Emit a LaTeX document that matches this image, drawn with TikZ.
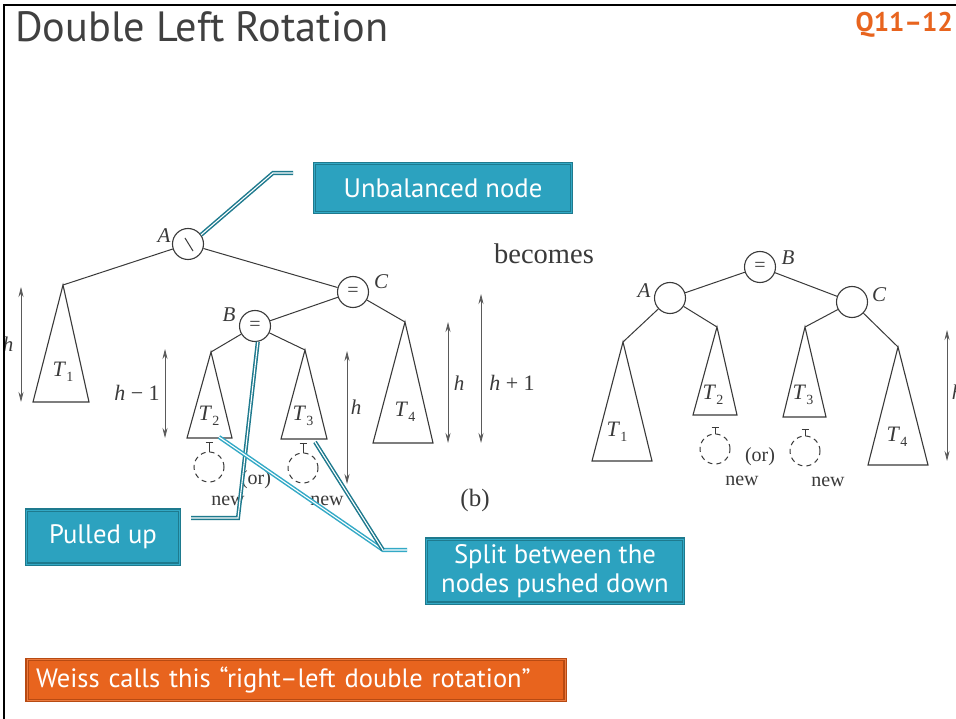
\documentclass[tikz,border=0pt]{standalone}
\usepackage{fontspec}
\setmainfont{Liberation Serif}
\newfontfamily\slidefont{PT Sans}
\usetikzlibrary{arrows.meta}
\definecolor{tealfill}{HTML}{2CA2BF}
\definecolor{tealdark}{HTML}{1E7A8E}
\definecolor{teallight}{HTML}{33A9C6}
\definecolor{orng}{HTML}{E8641E}
\definecolor{orngdark}{HTML}{B84A12}
\definecolor{ink}{HTML}{3A3A3A}
\definecolor{dimgray}{HTML}{5A5A5A}
\definecolor{titlegray}{HTML}{404040}
\newcommand{\Tsub}[1]{\textit{T}\raisebox{-5pt}{\fontsize{14}{14}\selectfont #1}}
\tikzset{
  tnode/.style={circle, draw=ink, line width=1.1pt, minimum size=31pt, inner sep=0pt, fill=white,
    font=\fontsize{20}{20}\selectfont, text=ink},
  edge/.style={draw=ink, line width=1pt},
  tri/.style={draw=ink, line width=1.1pt, line join=miter},
  newnode/.style={circle, draw=ink, line width=1pt, dash pattern=on 5pt off 4pt, minimum size=30pt, inner sep=0pt},
  stem/.style={draw=ink, line width=1pt},
  dimline/.style={draw=dimgray, line width=0.8pt, {Stealth[length=10pt,width=5pt]}-{Stealth[length=10pt,width=5pt]}},
  lab/.style={font=\fontsize{21}{21}\selectfont\itshape, text=ink, inner sep=0pt},
  tlab/.style={font=\fontsize{22}{22}\selectfont, text=ink, inner sep=0pt},
  txt/.style={font=\fontsize{20}{20}\selectfont, text=ink, inner sep=0pt},
  callout/.style={draw=tealdark, double=teallight, double distance=1pt, line width=1.2pt,
    fill=tealfill, text=white, font=\slidefont\fontsize{26.7}{29}\selectfont, inner sep=0pt, align=center},
  orangebox/.style={draw=orngdark, double=orng!85!white, double distance=1pt, line width=1.2pt,
    fill=orng, text=white, font=\slidefont\fontsize{26.5}{29}\selectfont, inner sep=0pt},
  conn/.style={draw=tealdark, double=white, double distance=1.1pt, line width=1.5pt, line join=miter},
  connlight/.style={draw=teallight, double=white, double distance=1.1pt, line width=1.5pt, line join=miter},
}
\begin{document}
\begin{tikzpicture}[x=1pt,y=-1pt]
\useasboundingbox (0,0) rectangle (956,719);
\fill[white] (0,0) rectangle (956,719);
% frame
\draw[line width=2pt] (4,719) -- (4,5) -- (956,5);
% title
\node[anchor=base west, inner sep=0pt, text=titlegray, font=\slidefont\fontsize{42.3}{42}\selectfont] (title) at (15,42) {Double Left Rotation};
\node[anchor=base east, inner sep=0pt, text=orng, font=\slidefont\bfseries\fontsize{27}{27}\selectfont] (qnum) at (953,32) {Q11–12};

% ===== left tree (before) =====
\node[tnode] (A) at (188,244) {};
\draw[ink, line width=1pt] (185,238) -- (193,251);
\node[tnode] (C) at (353,292) {=};
\node[tnode] (B) at (255,326) {=};
\node[lab] (lA) at (164,236) {A};
\node[lab] (lC) at (381,282) {C};
\node[lab] (lB) at (229,315) {B};

\coordinate (t1a) at (63,285);
\coordinate (t2a) at (211,352);
\coordinate (t3a) at (305,350);
\coordinate (t4a) at (405,322);
\draw[edge] (A) -- (t1a);
\draw[edge] (A) -- (C);
\draw[edge] (C) -- (B);
\draw[edge] (C) -- (t4a);
\draw[edge] (B) -- (t2a);
\draw[edge] (B) -- (t3a);
\draw[tri] (t1a) -- (33,402) -- (89,402) -- cycle;
\draw[tri] (t2a) -- (187,438) -- (232,438) -- cycle;
\draw[tri] (t3a) -- (281,439) -- (327,439) -- cycle;
\draw[tri] (t4a) -- (373,443) -- (433,443) -- cycle;
\node[tlab] (lT1) at (63,372) {\Tsub{1}};
\node[tlab] (lT2) at (209,416) {\Tsub{2}};
\node[tlab] (lT3) at (303,416) {\Tsub{3}};
\node[tlab] (lT4) at (405,412) {\Tsub{4}};

% new nodes (left)
\node[newnode] (n2) at (209,467) {};
\node[newnode] (n3) at (303,468) {};
\draw[stem] (205.5,442) -- (212.5,442);
\draw[stem] (209,442) -- (n2.north);
\draw[stem] (299.5,443) -- (306.5,443);
\draw[stem] (303,443) -- (n3.north);
\node[txt] (or1) at (256,480) {(or)};
\node[txt] (new1) at (228,501) {new};
\node[txt] (new2) at (327,501) {new};
\begin{scope}
\clip (440,470) rectangle (520,511);
\node[font=\fontsize{25}{25}\selectfont, text=ink, inner sep=0pt] (blabel) at (475,500) {(b)};
\end{scope}

% dimension arrows (left)
\coordinate (d1t) at (21,287); \coordinate (d1b) at (21,402);
\draw[dimline] (d1t) -- (d1b);
\begin{scope}
\clip (5,300) rectangle (30,380);
\node[lab] (hA) at (8,344) {h};
\end{scope}
\coordinate (d2t) at (165,349); \coordinate (d2b) at (165,438);
\draw[dimline] (d2t) -- (d2b);
\node[txt, font=\fontsize{22}{22}\selectfont] (hm1) at (137,393) {\textit{h} − 1};
\coordinate (d3t) at (347,351); \coordinate (d3b) at (347,484);
\draw[dimline] (d3t) -- (d3b);
\node[lab] (hB) at (356,407) {h};
\coordinate (d4t) at (448,322); \coordinate (d4b) at (448,443);
\draw[dimline] (d4t) -- (d4b);
\node[lab] (hC) at (459,383) {h};
\coordinate (d5t) at (481,294); \coordinate (d5b) at (481,443);
\draw[dimline] (d5t) -- (d5b);
\node[txt, font=\fontsize{22}{22}\selectfont] (hp1) at (512,383) {\textit{h} + 1};

\node[font=\fontsize{28.5}{28}\selectfont, text=ink, inner sep=0pt] (becomes) at (544,254) {becomes};

% ===== right tree (after) =====
\node[tnode] (RB) at (760,267) {=};
\node[tnode] (RA) at (670,298) {};
\node[tnode] (RC) at (852,302) {};
\node[lab] (lRB) at (788,258) {B};
\node[lab] (lRA) at (644,291) {A};
\node[lab] (lRC) at (879,295) {C};
\coordinate (r1a) at (623,342);
\coordinate (r2a) at (717,327);
\coordinate (r3a) at (805,327);
\coordinate (r4a) at (898,347);
\draw[edge] (RB) -- (RA);
\draw[edge] (RB) -- (RC);
\draw[edge] (RA) -- (r1a);
\draw[edge] (RA) -- (r2a);
\draw[edge] (RC) -- (r3a);
\draw[edge] (RC) -- (r4a);
\draw[tri] (r1a) -- (592,461) -- (652,461) -- cycle;
\draw[tri] (r2a) -- (693,415) -- (737,415) -- cycle;
\draw[tri] (r3a) -- (783,417) -- (826,417) -- cycle;
\draw[tri] (r4a) -- (868,465) -- (928,465) -- cycle;
\node[tlab] (lR1) at (617,432) {\Tsub{1}};
\node[tlab] (lR2) at (713,395) {\Tsub{2}};
\node[tlab] (lR3) at (803,395) {\Tsub{3}};
\node[tlab] (lR4) at (897,437) {\Tsub{4}};
\node[newnode] (rn2) at (715,449) {};
\node[newnode] (rn3) at (805,451) {};
\draw[stem] (711.5,427) -- (718.5,427);
\draw[stem] (715,427) -- (rn2.north);
\draw[stem] (801.5,429) -- (808.5,429);
\draw[stem] (805,429) -- (rn3.north);
\node[txt] (or2) at (760,457) {(or)};
\node[txt] (rnew1) at (742,481) {new};
\node[txt] (rnew2) at (828,482) {new};
\coordinate (d6t) at (947,330); \coordinate (d6b) at (947,461);
\draw[dimline] (d6t) -- (d6b);
\node[lab] (hR) at (957,392) {h};

% ===== callouts =====
\node[callout, minimum width=257pt, minimum height=49pt] (cUnb) at (443,188) {Unbalanced node};
\node[callout, minimum width=153pt, minimum height=54pt] (cPull) at (103,537) {Pulled up};
\node[callout, minimum width=257pt, minimum height=64pt] (cSplit) at (555,571) {Split between the\\nodes pushed down};
\node[orangebox, minimum width=538pt, minimum height=41pt, text width=520pt, align=left] (cWeiss) at (296,680) {Weiss calls this “right–left double rotation”};

\coordinate (u1) at (293,173);
\coordinate (u2) at (273,173);
\draw[conn] (u1) -- (u2) -- (A.35);
\coordinate (p1) at (191,518);
\coordinate (p2) at (238,518);
\draw[conn] (p1) -- (p2) -- (B.-80);
\coordinate (s1) at (407,550);
\coordinate (sj) at (383,550);
\coordinate (sT2) at (219,437);
\coordinate (sT3) at (315,442);
\draw[connlight] (s1) -- (sj) -- (sT2);
\draw[conn] (sj) -- (sT3);
\end{tikzpicture}
\end{document}
